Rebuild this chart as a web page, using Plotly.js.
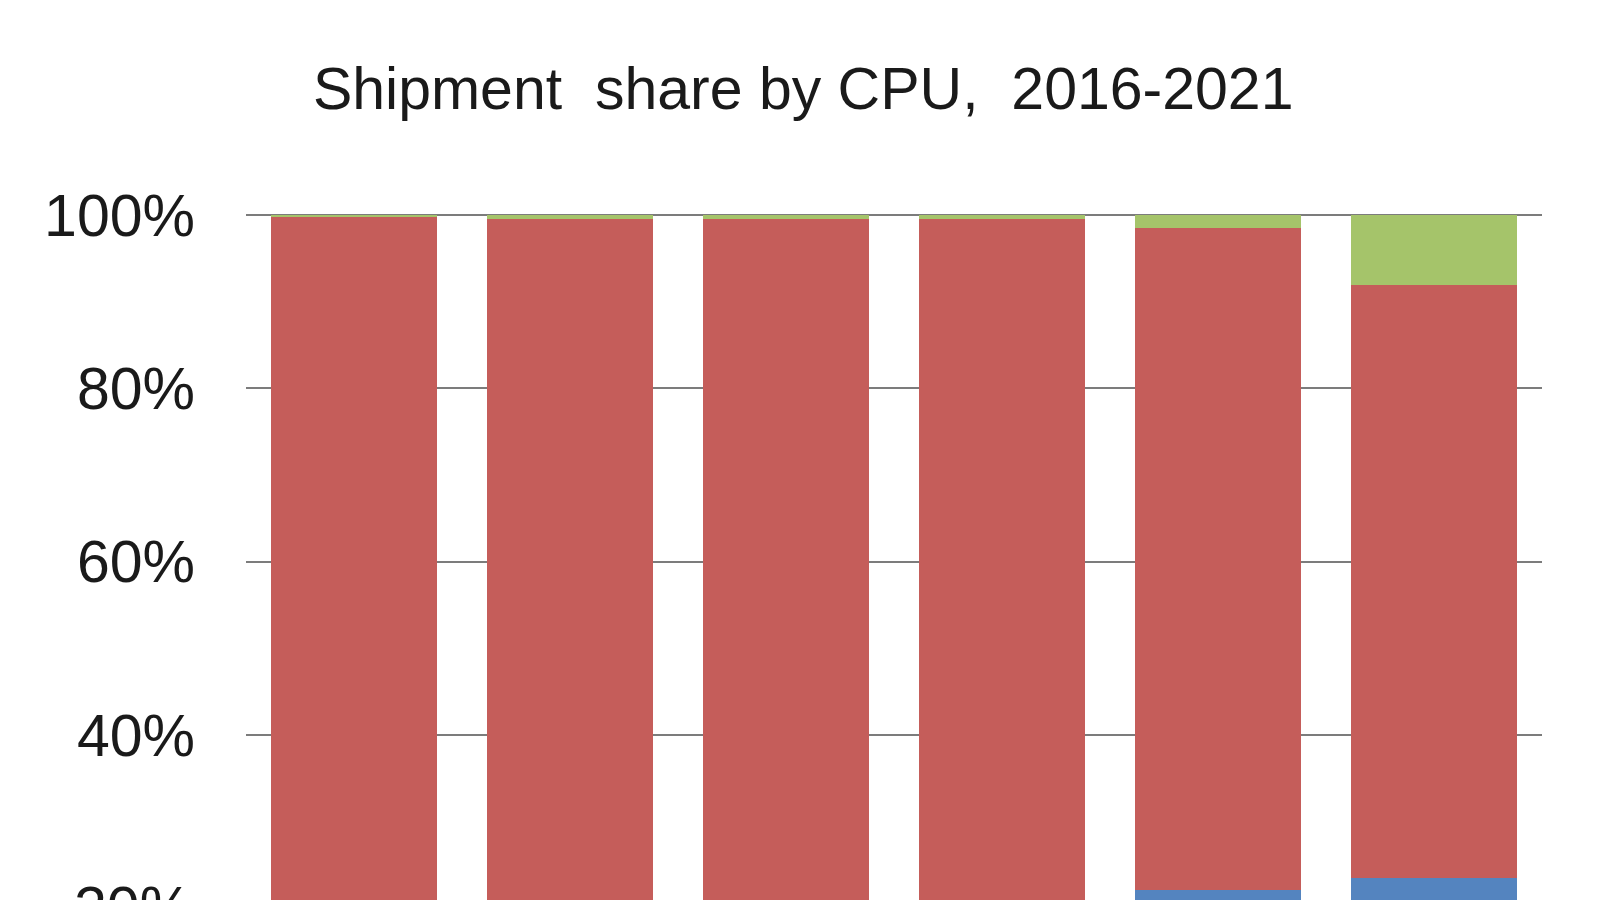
<!DOCTYPE html>
<html>
<head>
<meta charset="utf-8">
<script src="https://cdn.plot.ly/plotly-3.0.1.min.js"></script>
<style>
html,body{margin:0;padding:0;background:#fff;overflow:hidden;}
#chart{width:1600px;height:900px;}
</style>
</head>
<body>
<div id="chart"></div>
<script>
// Data (percent share of shipments)
var years = ["2016", "2017", "2018", "2019", "2020", "2021"];
var amdShare   = [18.0, 18.5, 19.0, 19.5, 22.1, 23.5];   // blue (bottom, mostly cropped)
var intelShare = [81.8, 81.0, 80.5, 80.0, 76.4, 68.4];   // red
var armShare   = [0.2, 0.5, 0.5, 0.5, 1.5, 8.1];         // green (top)
var yTicks = [20, 40, 60, 80, 100];
var yTickText = ["20%", "40%", "60%", "80%", "100%"];

var traces = [
  {type: "bar", name: "AMD", x: years, y: amdShare, marker: {color: "#5484BF"}},
  {type: "bar", name: "Intel", x: years, y: intelShare, marker: {color: "#C55D5A"}},
  {type: "bar", name: "ARM", x: years, y: armShare, marker: {color: "#A5C46A"}}
];

var yRange = [20.95, 101.73];
var fontFam = '"Liberation Sans", Arial, sans-serif';
var fSize = 59;
// the lowest tick lies just below the visible range; place its label in paper units
var lowLabelY = (yTicks[0] - yRange[0]) / (yRange[1] - yRange[0]);

var layout = {
  width: 1600, height: 900,
  paper_bgcolor: "#ffffff", plot_bgcolor: "#ffffff",
  barmode: "stack", bargap: 0.227,
  showlegend: false,
  margin: {l: 246, r: 58, t: 200, b: 0},
  font: {family: fontFam, color: "#1a1a1a"},
  title: {
    text: "Shipment  share by CPU,  2016-2021",
    font: {family: fontFam, size: fSize, color: "#1a1a1a"},
    x: 0.502, xanchor: "center", xref: "container",
    y: 0.902, yanchor: "middle", yref: "container"
  },
  xaxis: {
    type: "category", showticklabels: false, showgrid: false,
    zeroline: false, showline: false, ticks: ""
  },
  yaxis: {
    range: yRange, tickvals: yTicks, ticktext: yTickText,
    showgrid: true, gridcolor: "#7c7c7c", gridwidth: 2,
    zeroline: false, showline: false, ticks: "",
    ticklabelstandoff: 50,
    tickfont: {family: fontFam, size: fSize, color: "#1a1a1a"}
  },
  annotations: [{
    text: yTickText[0], xref: "paper", yref: "paper", x: 0, y: lowLabelY,
    xanchor: "right", yanchor: "middle", xshift: -52, showarrow: false,
    font: {family: fontFam, size: fSize, color: "#1a1a1a"}
  }]
};

Plotly.newPlot("chart", traces, layout, {displayModeBar: false, staticPlot: true});
</script>
</body>
</html>
